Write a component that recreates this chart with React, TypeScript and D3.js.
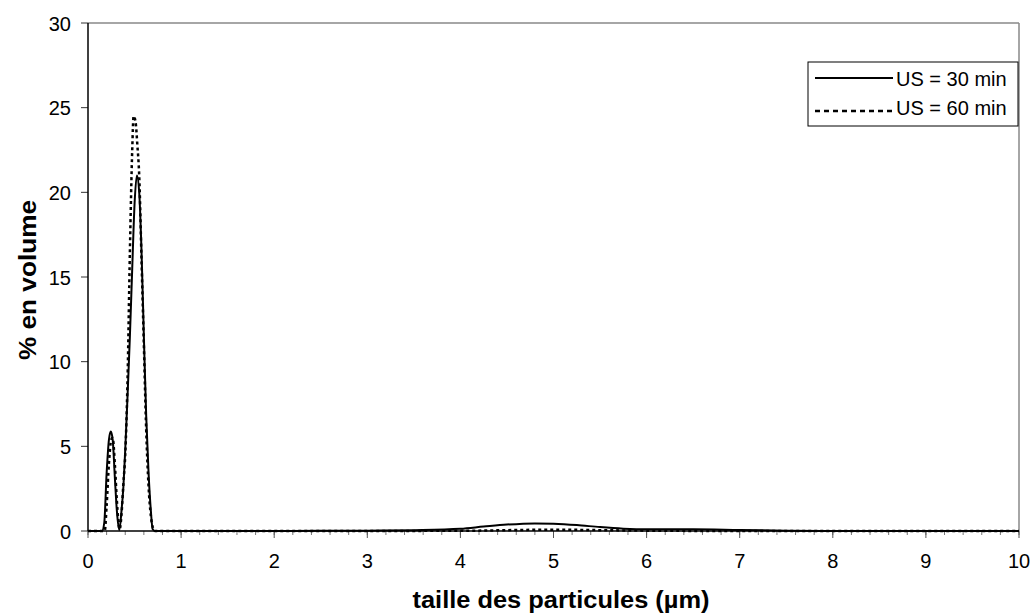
import React from "react";
import * as d3 from "d3";

const xTicks = [0, 1, 2, 3, 4, 5, 6, 7, 8, 9, 10];
const yTicks = [0, 5, 10, 15, 20, 25, 30];

const seriesNames = ["US = 30 min", "US = 60 min"];

const sizes30 = [0, 0.15, 0.175, 0.2, 0.225, 0.245, 0.265, 0.29, 0.31, 0.336, 0.36, 0.38, 0.4, 0.425, 0.45, 0.475, 0.5, 0.525, 0.55, 0.575, 0.6, 0.625, 0.65, 0.675, 0.695, 0.72, 1, 2, 2.5, 3, 3.5, 4, 4.25, 4.5, 4.8, 5.0, 5.25, 5.5, 5.75, 6, 6.5, 7, 7.5, 8, 9, 10];
const vol30 = [0, 0, 0.5, 3.4, 5.4, 5.87, 5.4, 3.0, 1.2, 0.05, 1.2, 2.6, 4.8, 8.0, 11.5, 15.5, 19.3, 21.0, 20.0, 16.5, 11.5, 6.8, 3.5, 1.2, 0.1, 0, 0, 0, 0.01, 0.02, 0.05, 0.13, 0.26, 0.38, 0.45, 0.43, 0.35, 0.23, 0.14, 0.1, 0.1, 0.06, 0.02, 0, 0, 0];

const sizes60 = [0, 0.18, 0.2, 0.225, 0.25, 0.265, 0.29, 0.31, 0.34, 0.36, 0.38, 0.4, 0.425, 0.45, 0.475, 0.49, 0.51, 0.53, 0.55, 0.575, 0.6, 0.625, 0.65, 0.675, 0.7, 0.72, 1, 4, 4.5, 5, 5.5, 6, 7, 10];
const vol60 = [0, 0, 1.5, 4.0, 5.4, 5.5, 3.8, 1.8, 0.1, 1.0, 2.8, 4.5, 9.0, 16.5, 22.5, 24.5, 24.2, 22.8, 21.0, 16.0, 11.0, 6.0, 2.7, 0.9, 0.15, 0, 0, 0.01, 0.05, 0.08, 0.05, 0.02, 0, 0];

const W = 1034;
const H = 613;
const left = 88;
const right = 1019;
const top = 23;
const bottom = 531;

export default function App() {
  const x = d3.scaleLinear().domain([0, 10]).range([left, right]);
  const y = d3.scaleLinear().domain([0, 30]).range([bottom, top]);
  const line = d3
    .line<[number, number]>()
    .x((d) => x(d[0]))
    .y((d) => y(d[1]))
    .curve(d3.curveMonotoneX);
  const d30 = line(sizes30.map((s, i) => [s, vol30[i]] as [number, number])) || "";
  const d60 = line(sizes60.map((s, i) => [s, vol60[i]] as [number, number])) || "";
  const minor = d3.range(0, 10.001, 0.2);
  const font = "Liberation Sans, Arial, sans-serif";

  return (
    <svg
      width={W}
      height={H}
      style={{ position: "absolute", left: 0, top: 0, background: "#fff" }}
      fontFamily={font}
    >
      {/* plot border */}
      <line x1={left} y1={top} x2={right} y2={top} stroke="#888" strokeWidth={1.5} />
      <line x1={right} y1={top} x2={right} y2={bottom} stroke="#888" strokeWidth={1.5} />
      {/* minor x ticks */}
      {minor.map((m, i) => (
        <line key={"m" + i} x1={x(m)} x2={x(m)} y1={bottom} y2={bottom + 4} stroke="#777" strokeWidth={1} />
      ))}
      {xTicks.map((t) => (
        <g key={"x" + t}>
          <line x1={x(t)} x2={x(t)} y1={bottom} y2={bottom + 7} stroke="#555" strokeWidth={1} />
          <text x={x(t)} y={568} fontSize={20} textAnchor="middle" fill="#000">
            {t}
          </text>
        </g>
      ))}
      {yTicks.map((t) => (
        <g key={"y" + t}>
          <line x1={left - 7} x2={left} y1={y(t)} y2={y(t)} stroke="#333" strokeWidth={1} />
          <text x={71} y={y(t) + 7.5} fontSize={20} textAnchor="end" fill="#000">
            {t}
          </text>
        </g>
      ))}
      {/* axes */}
      <line x1={left} y1={top} x2={left} y2={bottom} stroke="#000" strokeWidth={1.5} />
      <line x1={left} y1={bottom} x2={right} y2={bottom} stroke="#000" strokeWidth={1.5} />
      {/* series */}
      <path d={d60} fill="none" stroke="#000" strokeWidth={2.5} strokeDasharray="3,3" />
      <path d={d30} fill="none" stroke="#000" strokeWidth={2} />
      {/* legend */}
      <rect x={808} y={62} width={210} height={64} fill="#fff" stroke="#000" strokeWidth={1} />
      <line x1={815} x2={893} y1={78} y2={78} stroke="#000" strokeWidth={2} />
      <line x1={815} x2={893} y1={111} y2={111} stroke="#000" strokeWidth={2.5} strokeDasharray="5,4" />
      <text x={896} y={85.5} fontSize={20} fill="#000">{seriesNames[0]}</text>
      <text x={896} y={115} fontSize={20} fill="#000">{seriesNames[1]}</text>
      {/* axis titles */}
      <text
        x={561}
        y={608}
        fontSize={23}
        fontWeight="bold"
        textAnchor="middle"
        textLength={297}
        lengthAdjust="spacingAndGlyphs"
        fill="#000"
      >
        taille des particules (µm)
      </text>
      <text
        transform="translate(36, 280) rotate(-90)"
        fontSize={23}
        fontWeight="bold"
        textAnchor="middle"
        textLength={160}
        lengthAdjust="spacingAndGlyphs"
        fill="#000"
      >
        % en volume
      </text>
    </svg>
  );
}
